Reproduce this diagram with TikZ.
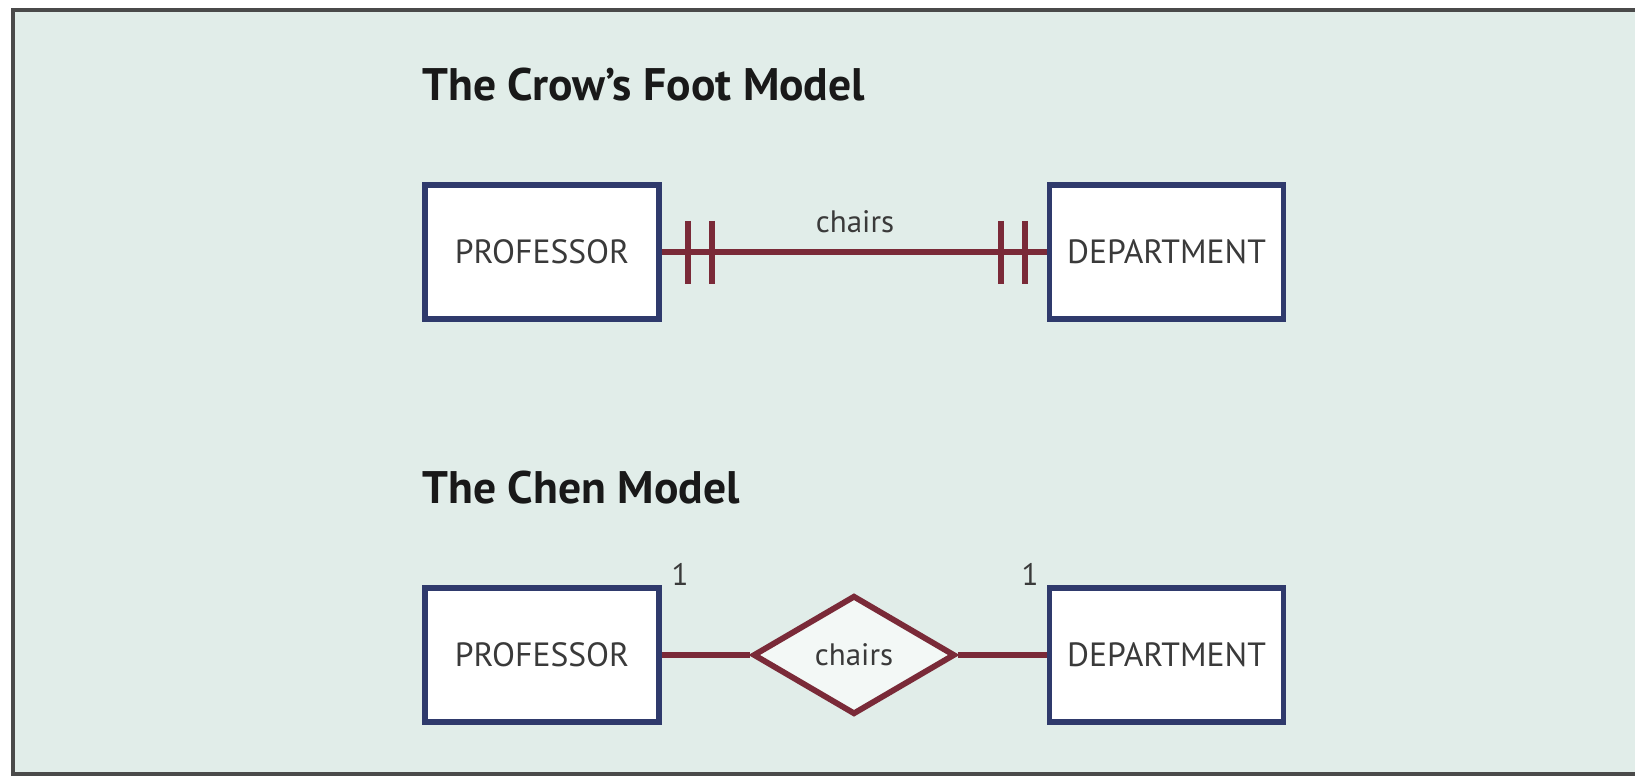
\documentclass[tikz,border=0pt]{standalone}
\usepackage{fontspec}
\setmainfont{PT Sans}
\usetikzlibrary{shapes.geometric}
\definecolor{bgmint}{HTML}{E1EDE9}
\definecolor{navy}{HTML}{2F3A6C}
\definecolor{rel}{HTML}{7A2A38}
\definecolor{framegray}{HTML}{4A4A4A}
\definecolor{txt}{HTML}{3A3A3A}
\tikzset{
  entity/.style={draw=navy, line width=2.9pt, fill=white, minimum width=117pt, minimum height=67pt, inner sep=0pt, font=\fontsize{16.8}{20}\selectfont, text=txt},
  relline/.style={draw=rel, line width=2.9pt},
  bar/.style={draw=rel, line width=2.6pt},
  title/.style={font=\bfseries\fontsize{22.8}{27}\selectfont, anchor=west, inner sep=0pt, text=black!90},
  lbl/.style={font=\fontsize{15.5}{18}\selectfont, text=txt, inner sep=0pt},
  rship/.style={diamond, draw=rel, line width=2.9pt, fill=white!60!bgmint, minimum width=101pt, minimum height=59.5pt, inner sep=0pt, aspect=1.7, font=\fontsize{15.5}{18}\selectfont, text=txt}
}
\begin{document}
\begin{tikzpicture}[x=0.5pt,y=-0.5pt]
\useasboundingbox (0,0) rectangle (1635,780);
\begin{scope}
\clip (0,0) rectangle (1635,780);
\draw[draw=framegray, line width=1.6pt, fill=bgmint] (13,10) rectangle (1660,774);
\end{scope}
% titles
\node[title] (t1) at (422,85) {The Crow’s Foot Model};
\node[title] (t2) at (422,488) {The Chen Model};
% crow's foot
\node[entity] (p1) at (542,252) {PROFESSOR};
\node[entity] (d1) at (1166.5,252) {DEPARTMENT};
\draw[relline] (p1.east) -- (d1.west);
\node[lbl] (c1) at (855,222) {chairs};
\draw[bar] (688,221) -- (688,284);
\draw[bar] (712,221) -- (712,284);
\draw[bar] (1001,221) -- (1001,284);
\draw[bar] (1025,221) -- (1025,284);
% chen
\node[entity] (p2) at (542,655) {PROFESSOR};
\node[entity] (d2) at (1166.5,655) {DEPARTMENT};
\node[rship] (r2) at (854,655) {chairs};
\draw[relline] (p2.east) -- (r2.west);
\draw[relline] (r2.east) -- (d2.west);
\node[lbl] (n1) at (680,574) {1};
\node[lbl] (n2) at (1030,574) {1};
\end{tikzpicture}
\end{document}
